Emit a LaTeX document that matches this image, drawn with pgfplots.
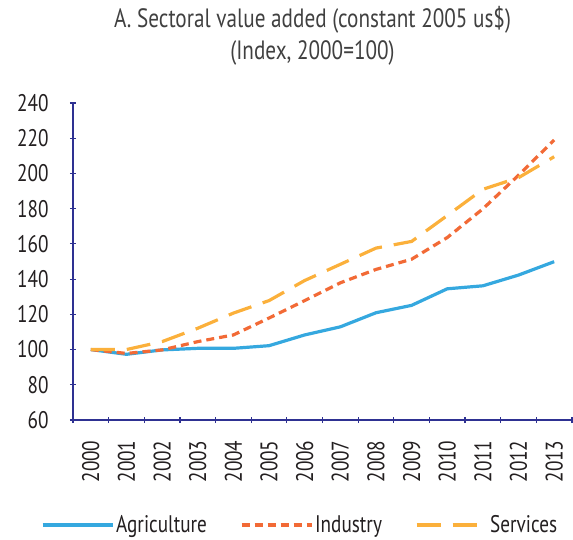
\documentclass[border=0pt]{standalone}
\usepackage{pgfplots}
\pgfplotsset{compat=1.18}
\usepackage{fontspec}
\setmainfont[FakeStretch=0.8]{PT Sans}
\definecolor{agri}{HTML}{35A8DF}
\definecolor{indu}{HTML}{F26A36}
\definecolor{serv}{HTML}{FBB03B}
\definecolor{axc}{HTML}{2E3192}
\definecolor{txt}{HTML}{231F20}
\definecolor{ttl}{HTML}{404040}
\begin{document}
\begin{tikzpicture}
\begin{axis}[
  scale only axis,
  width=499pt, height=317pt,
  xmin=-0.5, xmax=13.5,
  ymin=60, ymax=240,
  ytick={60,80,...,240},
  xtick={0,...,13},
  xticklabels={2000,2001,2002,2003,2004,2005,2006,2007,2008,2009,2010,2011,2012,2013},
  x tick label style={rotate=90, anchor=east, font=\fontsize{24}{24}\selectfont, text=txt},
  y tick label style={anchor=east, font=\fontsize{24}{24}\selectfont, text=txt},
  xticklabel shift=14pt,
  yticklabel shift=18pt,
  major x tick style={draw=none},
  minor xtick={-0.5,0.5,...,13.5},
  minor x tick style={draw=axc, line width=1.2pt},
  minor tick length=6pt,
  major tick length=6pt,
  tick align=outside,
  y tick style={draw=axc, line width=1.2pt},
  axis x line=bottom, axis y line=left,
  axis line style={-, draw=axc, line width=1.2pt},
  /pgf/number format/assume math mode=true,
  title={A. Sectoral value added (constant 2005 us\$)\\(Index, 2000=100)},
  title style={align=center, font=\fontsize{26.5}{32}\selectfont, text=ttl, yshift=28pt, xshift=-10pt},
  legend style={at={(0.455,-0.331)}, anchor=center, draw=none, legend columns=3,
    font=\fontsize{24}{24}\selectfont, text=txt, inner sep=0pt,
    /tikz/every even column/.append style={column sep=31pt}},
  legend image code/.code={\draw[#1] (0pt,0pt) -- (70pt,0pt);},
  clip=false,
]
\coordinate (ll) at (rel axis cs:0,0);
\coordinate (ur) at (rel axis cs:1,1);
\addplot[agri, line width=3.2pt] coordinates {
(0,100) (1,97.3) (2,99.8) (3,100.7) (4,100.7) (5,102.2) (6,108.3) (7,112.9) (8,120.9) (9,125.1) (10,134.5) (11,136.2) (12,142.3) (13,149.9)};
\addlegendentry{Agriculture}
\addplot[indu, line width=3.2pt, dash pattern=on 8pt off 5pt] coordinates {
(0,100) (1,97.8) (2,99.8) (3,104.5) (4,108.3) (5,117.9) (6,127.8) (7,137.9) (8,145.5) (9,151.3) (10,163.6) (11,179.9) (12,199) (13,219)};
\addlegendentry{Industry}
\addplot[serv, line width=3.2pt, dash pattern=on 24pt off 12pt] coordinates {
(0,100) (1,100) (2,104.5) (3,112.1) (4,120.7) (5,127.8) (6,139.2) (7,148.4) (8,157.6) (9,161.4) (10,176.1) (11,191) (12,197.6) (13,209.5)};
\addlegendentry{Services}
\end{axis}
\pgfresetboundingbox
\path[use as bounding box] ([shift={(-73pt,-119pt)}]ll) rectangle ([shift={(1pt,103pt)}]ur);
\end{tikzpicture}
\end{document}
